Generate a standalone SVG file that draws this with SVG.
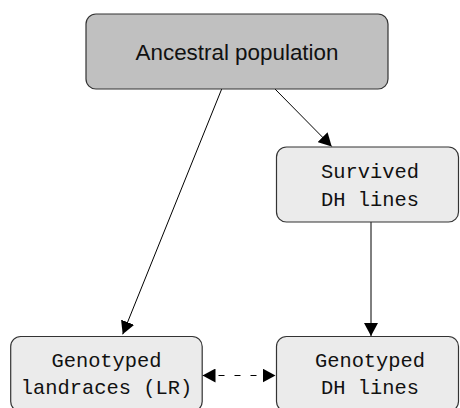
<svg xmlns="http://www.w3.org/2000/svg" width="460" height="408" viewBox="0 0 460 408">
<style>
.box{stroke:#333;stroke-width:1.2}
.top{fill:#c0c0c0}
.light{fill:#ebebeb}
.sans{font-family:"Liberation Sans",Arial,sans-serif;font-size:22.4px;fill:#111;text-anchor:middle}
.mono{font-family:"Liberation Mono","Courier New",monospace;font-size:20.4px;fill:#111;text-anchor:middle}
.conn{stroke:#000;stroke-width:1;fill:none}
</style>
<defs>
<marker id="ah" markerUnits="userSpaceOnUse" markerWidth="14" markerHeight="14" refX="13" refY="7" orient="auto-start-reverse" viewBox="0 0 14 14">
<path d="M0,0 L13,7 L0,14 z" fill="#000"/>
</marker>
</defs>
<g id="connectors">
<line class="conn" x1="221.7" y1="89" x2="122.7" y2="334.3" marker-end="url(#ah)"/>
<line class="conn" x1="275" y1="89" x2="331.7" y2="146.5" marker-end="url(#ah)"/>
<line class="conn" x1="371" y1="222" x2="371" y2="336" marker-end="url(#ah)"/>
<line class="conn" x1="202.5" y1="375.5" x2="275.5" y2="375.5" stroke-dasharray="6 10" marker-start="url(#ah)" marker-end="url(#ah)"/>
</g>
<g id="ancestral">
<rect class="box top" x="86" y="14" width="302" height="75" rx="10"/>
<text class="sans" x="237" y="59.5">Ancestral population</text>
</g>
<g id="survived">
<rect class="box light" x="276.5" y="147" width="182" height="75" rx="10"/>
<text class="mono" x="370" y="177.7">Survived</text>
<text class="mono" x="370" y="205.5">DH lines</text>
</g>
<g id="landraces">
<rect class="box light" x="10.7" y="336.5" width="191.5" height="75" rx="10"/>
<text class="mono" x="106.5" y="366.8">Genotyped</text>
<text class="mono" x="106.5" y="394.3">landraces (LR)</text>
</g>
<g id="genotyped-dh">
<rect class="box light" x="276.5" y="336.5" width="182" height="75" rx="10"/>
<text class="mono" x="370" y="366.8">Genotyped</text>
<text class="mono" x="370" y="394.3">DH lines</text>
</g>
</svg>
